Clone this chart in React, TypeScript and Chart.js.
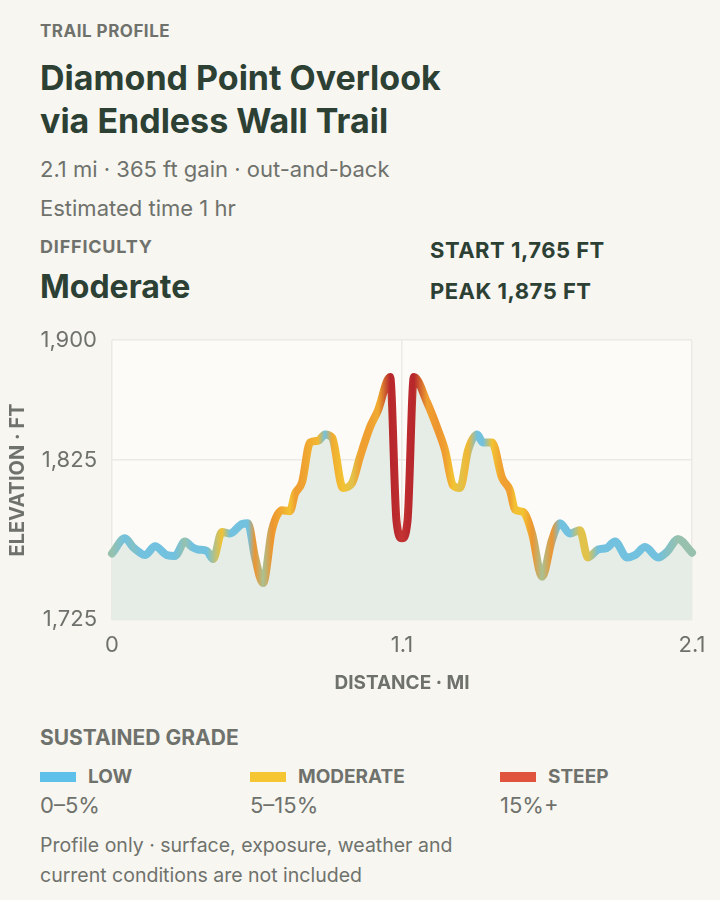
import React, { useEffect, useRef } from "react";
import { Chart, registerables } from "chart.js";

Chart.register(...registerables);

// ---- Data ----
const distanceMi = [
  0.0, 0.047, 0.076, 0.101, 0.119, 0.156, 0.199, 0.228, 0.264, 0.29, 0.311, 0.344, 0.366,
  0.398, 0.427, 0.471, 0.492, 0.518, 0.547, 0.579, 0.616, 0.644, 0.663, 0.688, 0.717, 0.746,
  0.771, 0.797, 0.836, 0.869, 0.898, 0.934, 0.963, 1.007, 1.03, 1.05, 1.07, 1.093, 1.141, 1.18,
  1.206, 1.235, 1.26, 1.289, 1.322, 1.343, 1.376, 1.412, 1.441, 1.459, 1.488, 1.521, 1.557,
  1.593, 1.622, 1.658, 1.694, 1.723, 1.76, 1.792, 1.821, 1.865, 1.894, 1.93, 1.977, 2.009,
  2.049, 2.1,
];
const elevationFt = [
  1766.5, 1776, 1770.5, 1767, 1765.5, 1771, 1765.5, 1765, 1774, 1770.5, 1769, 1768, 1763,
  1780, 1779, 1785, 1785.5, 1764, 1748, 1781, 1793.5, 1793, 1804, 1811, 1836, 1837,
  1841, 1839, 1807.5, 1810.5, 1827, 1845.5, 1856, 1877, 1787, 1776, 1787, 1877, 1861, 1844,
  1831, 1809, 1807.5, 1831, 1841, 1836, 1836, 1814, 1806, 1794, 1792.5, 1779, 1752,
  1775, 1785.5, 1779, 1781, 1764, 1769, 1770, 1774, 1764, 1765.5, 1770.5, 1764, 1767.5,
  1775.5, 1767,
];
// sustained grade (%) at each sample
const gradePct = [
  5, 1, 4, 3, 1, 2, 1, 1, 5, 1, 2, 2, 6,
  10, 3, 2, 1, 14, 6, 14, 12, 10, 13, 13, 12, 11,
  2, 12, 10, 9, 13, 13, 12, 32, 30, 26, 30, 32, 13, 14,
  13, 10, 9, 11, 2, 2, 10, 13, 13, 10, 10, 14, 6,
  14, 2, 2, 9, 9, 3, 2, 1, 1, 1, 1, 1, 4,
  5, 5,
];

const yTickValues = [1725, 1825, 1900];
const xTickValues = [0, 1.05, 2.1];
const xTickLabels = ["0", "1.1", "2.1"];

const legendNames = ["LOW", "MODERATE", "STEEP"];
const legendRanges = ["0–5%", "5–15%", "15%+"];
const legendColors = ["#5fc0ea", "#f5c532", "#e0543e"];

// ---- Styles ----
const FONT = "Inter, 'Noto Sans', 'DejaVu Sans', sans-serif";
const PAGE_BG = "#f7f6f1";
const PLOT_BG = "#fcfbf8";
const DARK = "#2c4034";
const MUTED = "#6f726c";
const GRID = "#ebeae5";
const FILL = "#e6ede7";

const GRADE_STOPS: [number, number[]][] = [
  [0, [114, 193, 222]],
  [3, [114, 193, 222]],
  [10, [243, 194, 50]],
  [15, [236, 138, 48]],
  [22, [206, 62, 56]],
  [32, [182, 38, 44]],
];

function gradeColor(g: number): string {
  const s = GRADE_STOPS;
  if (g <= s[0][0]) return `rgb(${s[0][1].join(",")})`;
  for (let i = 1; i < s.length; i++) {
    if (g <= s[i][0]) {
      const t = (g - s[i - 1][0]) / (s[i][0] - s[i - 1][0]);
      const a = s[i - 1][1];
      const b = s[i][1];
      const c = a.map((v, k) => Math.round(v + (b[k] - v) * t));
      return `rgb(${c.join(",")})`;
    }
  }
  return `rgb(${s[s.length - 1][1].join(",")})`;
}

const plotBgPlugin = {
  id: "plotBg",
  beforeDraw(chart: any) {
    const { ctx, chartArea: a } = chart;
    if (!a) return;
    ctx.save();
    ctx.fillStyle = PLOT_BG;
    ctx.fillRect(a.left, a.top, a.right - a.left, a.bottom - a.top);
    ctx.restore();
  },
};

function ProfileChart() {
  const ref = useRef<HTMLCanvasElement | null>(null);
  useEffect(() => {
    if (!ref.current) return;
    const points = distanceMi.map((d, i) => ({ x: d, y: elevationFt[i] }));
    const chart = new Chart(ref.current, {
      type: "line",
      data: {
        datasets: [
          {
            data: points,
            borderWidth: 8,
            borderCapStyle: "round",
            borderJoinStyle: "round",
            cubicInterpolationMode: "monotone",
            pointRadius: 0,
            clip: 6,
            fill: "start",
            backgroundColor: FILL,
            borderColor: (ctx: any) => {
              const c = ctx.chart;
              const { chartArea, scales } = c;
              if (!chartArea || !scales.x) return gradeColor(5);
              const g = c.ctx.createLinearGradient(chartArea.left, 0, chartArea.right, 0);
              const w = chartArea.right - chartArea.left;
              distanceMi.forEach((d, i) => {
                const t = (scales.x.getPixelForValue(d) - chartArea.left) / w;
                g.addColorStop(Math.min(1, Math.max(0, t)), gradeColor(gradePct[i]));
              });
              return g;
            },
          } as any,
        ],
      },
      options: {
        animation: false,
        responsive: true,
        maintainAspectRatio: false,
        layout: { padding: { top: 0, right: 28, bottom: 8, left: 0 } },
        plugins: { legend: { display: false }, tooltip: { enabled: false } },
        scales: {
          x: {
            type: "linear",
            min: 0,
            max: 2.1,
            afterBuildTicks: (axis: any) => {
              axis.ticks = xTickValues.map((v) => ({ value: v }));
            },
            ticks: {
              callback: (_v: any, i: number) => xTickLabels[i],
              color: MUTED,
              font: { family: FONT, size: 22 },
              padding: 12,
              maxRotation: 0,
            },
            grid: { color: GRID, lineWidth: 1.5, drawTicks: false },
            border: { display: false },
            title: {
              display: true,
              text: "DISTANCE · MI",
              color: MUTED,
              font: { family: FONT, size: 19, weight: "bold" },
              padding: { top: 2, bottom: 0 },
            },
          },
          y: {
            min: 1725,
            max: 1900,
            afterBuildTicks: (axis: any) => {
              axis.ticks = yTickValues.map((v) => ({ value: v }));
            },
            afterFit: (axis: any) => {
              axis.width = 112;
            },
            ticks: {
              callback: (v: any) => Number(v).toLocaleString("en-US"),
              color: MUTED,
              font: { family: FONT, size: 22 },
              padding: 15,
            },
            grid: { color: GRID, lineWidth: 1.5, drawTicks: false },
            border: { display: false },
            title: {
              display: true,
              text: "ELEVATION · FT",
              color: MUTED,
              font: { family: FONT, size: 20, weight: "bold" },
              padding: { top: 6, bottom: 0 },
            },
          },
        },
      } as any,
      plugins: [plotBgPlugin],
    });
    return () => chart.destroy();
  }, []);
  return (
    <div style={{ position: "absolute", left: 0, top: 312, width: 720, height: 391 }}>
      <canvas ref={ref} />
    </div>
  );
}

const abs = (top: number, left: number, extra: React.CSSProperties): React.CSSProperties => ({
  position: "absolute",
  top,
  left,
  whiteSpace: "nowrap",
  ...extra,
});

export default function App() {
  return (
    <div
      style={{
        position: "absolute",
        left: 0,
        top: 0,
        width: 720,
        height: 900,
        background: PAGE_BG,
        fontFamily: FONT,
        overflow: "hidden",
      }}
    >
      <div
        style={abs(20, 40, {
          fontSize: 17,
          lineHeight: "22px",
          fontWeight: 700,
          color: MUTED,
          letterSpacing: 0.5,
        })}
      >
        TRAIL PROFILE
      </div>
      <div
        style={abs(56, 40, {
          fontSize: 34,
          lineHeight: "43px",
          fontWeight: 700,
          color: DARK,
        })}
      >
        Diamond Point Overlook
        <br />
        via Endless Wall Trail
      </div>
      <div style={abs(154, 40, { fontSize: 22, lineHeight: "30px", color: MUTED })}>
        2.1 mi · 365 ft gain · out-and-back
      </div>
      <div style={abs(193, 40, { fontSize: 22, lineHeight: "30px", color: MUTED })}>
        Estimated time 1 hr
      </div>
      <div
        style={abs(235, 40, {
          fontSize: 18,
          lineHeight: "24px",
          fontWeight: 700,
          color: MUTED,
          letterSpacing: 0.8,
        })}
      >
        DIFFICULTY
      </div>
      <div style={abs(268, 40, { fontSize: 32, lineHeight: "38px", fontWeight: 700, color: DARK })}>
        Moderate
      </div>
      <div
        style={abs(237, 430, {
          fontSize: 22,
          lineHeight: "26px",
          fontWeight: 700,
          color: DARK,
          letterSpacing: 0.5,
        })}
      >
        START 1,765 FT
      </div>
      <div
        style={abs(278, 430, {
          fontSize: 22,
          lineHeight: "26px",
          fontWeight: 700,
          color: DARK,
          letterSpacing: 0.5,
        })}
      >
        PEAK 1,875 FT
      </div>

      <ProfileChart />

      <div style={abs(725, 40, { fontSize: 21, lineHeight: "26px", fontWeight: 700, color: MUTED })}>
        SUSTAINED GRADE
      </div>
      {legendNames.map((name, i) => {
        const left = [40, 250, 500][i];
        return (
          <React.Fragment key={name}>
            <div style={abs(772, left, { width: 36, height: 10, background: legendColors[i] })} />
            <div
              style={abs(765, left + 48, { fontSize: 19, lineHeight: "24px", fontWeight: 700, color: MUTED })}
            >
              {name}
            </div>
            <div style={abs(790, left, { fontSize: 22, lineHeight: "30px", color: MUTED })}>
              {legendRanges[i]}
            </div>
          </React.Fragment>
        );
      })}
      <div style={abs(830, 40, { fontSize: 19.5, lineHeight: "30px", color: MUTED })}>
        Profile only · surface, exposure, weather and
        <br />
        current conditions are not included
      </div>
    </div>
  );
}
